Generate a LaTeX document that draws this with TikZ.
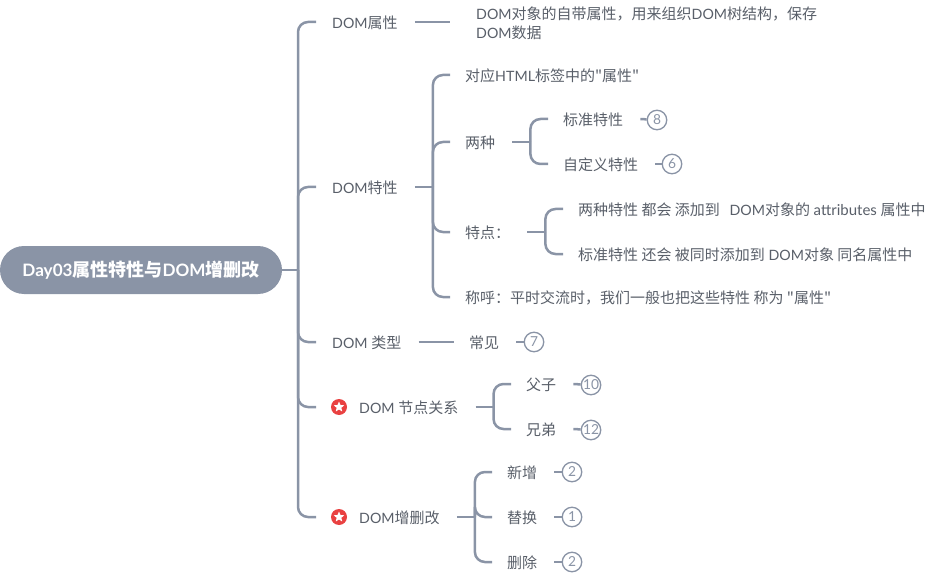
\documentclass[tikz,border=0pt]{standalone}
\usepackage{fontspec}
\setmainfont{Lato}[Scale=0.95]
\newfontfamily\cjk{Noto Sans CJK SC}
\newcommand{\cn}[1]{{\cjk #1}}
\usetikzlibrary{shapes.geometric}
\definecolor{linegray}{HTML}{8A94A6}
\definecolor{textgray}{HTML}{595F69}
\definecolor{starred}{HTML}{E94141}

\begin{document}
\begin{tikzpicture}[x=1pt, y=-1pt,
	plain/.style = {anchor=west, inner xsep=15pt, inner ysep=2pt, text=textgray, font=\fontsize{15}{19}\selectfont},
	main/.style = {plain, text height=14.5pt, text depth=1pt, execute at end node=\hskip2pt},
	root/.style = {fill=linegray, text=white, rounded corners=24pt, minimum width=282pt, minimum height=48pt, inner sep=0pt, font=\fontsize{18}{20}\bfseries\selectfont},
	badge/.style = {draw=linegray, circle, fill=white, line width=1.3pt, minimum size=19.5pt, inner sep=0pt, text=linegray, font=\fontsize{14.5}{16}\selectfont},
	link/.style = {draw=linegray, line width=2.5pt},
	curve/.style = {link, rounded corners=10pt},
	icon/.style = {circle, fill=starred, minimum size=16pt, inner sep=0pt},
	mark star/.style = {star, star points=5, star point ratio=2.2, fill=white, minimum size=11pt, inner sep=0pt}]
	\useasboundingbox (0,0) rectangle (927,575);

	\node[root] (R) at (141,270) {Day03\cn{属性特性与}DOM\cn{增删改}};

	\node[main] (attr) at (317,22) {DOM\cn{属性}};
	\node[main] (feat) at (317,187) {DOM\cn{特性}};
	\node[main] (type) at (317,342) {DOM \cn{类型}};
	\node[icon] (star1) at (339,407) {};
	\node[mark star] at (star1) {};
	\node[main] (rel) at (344,407) {DOM \cn{节点关系}};
	\node[icon] (star2) at (339,517) {};
	\node[mark star] at (star2) {};
	\node[main] (edit) at (344,517) {DOM\cn{增删改}};

	\node[plain, inner xsep=26pt, align=left] (desc) at (450,23) {DOM\cn{对象的自带属性，用来组织}DOM\cn{树结构，保存}\\DOM\cn{数据}};

	\node[main] (f1) at (450,75) {\cn{对应}HTML\cn{标签中的"属性"}};
	\node[main] (f2) at (450,142) {\cn{两种}};
	\node[main] (f3) at (450,232) {\cn{特点：}};
	\node[main] (f4) at (450,297) {\cn{称呼：平时交流时，我们一般也把这些特性 称为 "属性"}};

	\node[main] (s1) at (548,119) {\cn{标准特性}};
	\node[main] (s2) at (548,164) {\cn{自定义特性}};
	\node[main] (p1) at (563,209) {\cn{两种特性 都会 添加到}\ \ \,DOM\cn{对象的} {\fontsize{15.8}{19}\selectfont attributes} \cn{属性中}};
	\node[main] (p2) at (563,254) {\cn{标准特性 还会 被同时添加到} DOM\cn{对象 同名属性中}};

	\node[main] (t1) at (454,342) {\cn{常见}};
	\node[main] (r1) at (511,384) {\cn{父子}};
	\node[main] (r2) at (511,429) {\cn{兄弟}};
	\node[main] (e1) at (492,472) {\cn{新增}};
	\node[main] (e2) at (492,517) {\cn{替换}};
	\node[main] (e3) at (492,562) {\cn{删除}};

	\node[badge] (b8) at (657,120) {8};
	\node[badge] (b6) at (672,164) {6};
	\node[badge] (b7) at (534,342) {7};
	\node[badge] (b10) at (591,385) {10};
	\node[badge] (b12) at (591,430) {12};
	\node[badge] (b2a) at (572,472) {2};
	\node[badge] (b1) at (572,517) {1};
	\node[badge] (b2b) at (572,562) {2};

	% Trunks
	\draw[link] (R.east) -- (298,270) coordinate (Rbus);
	\foreach \kid in {attr,feat,type,rel,edit}
		\draw[curve] (Rbus) |- (\kid.west -| 316,0);
	\draw[link] (feat.east) -- ++(18,0) coordinate (Fbus);
	\foreach \kid in {f1,f2,f3,f4}
		\draw[curve] (Fbus) |- (\kid.west);
	\draw[link] (f2.east) -- ++(18,0) coordinate (Sbus);
	\foreach \kid in {s1,s2}
		\draw[curve] (Sbus) |- (\kid.west);
	\draw[link] (f3.east) -- ++(18,0) coordinate (Pbus);
	\foreach \kid in {p1,p2}
		\draw[curve] (Pbus) |- (\kid.west);
	\draw[link] (rel.east) -- ++(18,0) coordinate (Xbus);
	\foreach \kid in {r1,r2}
		\draw[curve] (Xbus) |- (\kid.west);
	\draw[link] (edit.east) -- ++(18,0) coordinate (Ebus);
	\foreach \kid in {e1,e2,e3}
		\draw[curve] (Ebus) |- (\kid.west);

	% Straight ones
	\draw[link] (attr.east) -- (attr.east -| desc.west);
	\draw[link] (type.east) -- (t1.west);
	\draw[link] (s1.east) -- (b8);
	\draw[link] (s2.east) -- (b6);
	\draw[link] (t1.east) -- (b7);
	\draw[link] (r1.east) -- (b10);
	\draw[link] (r2.east) -- (b12);
	\draw[link] (e1.east) -- (b2a);
	\draw[link] (e2.east) -- (b1);
	\draw[link] (e3.east) -- (b2b);
\end{tikzpicture}
\end{document}
